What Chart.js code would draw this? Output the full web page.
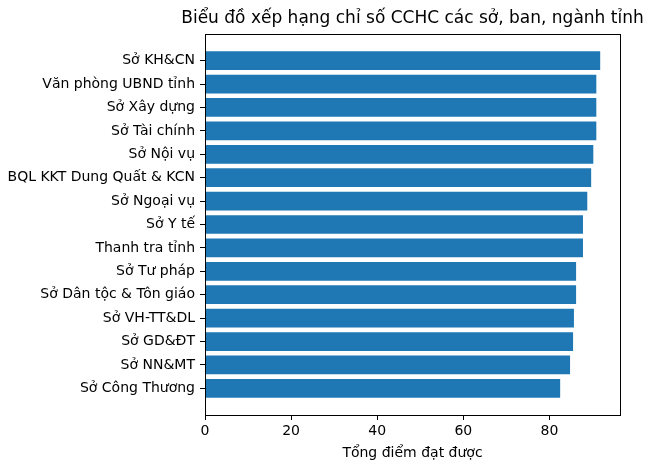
<!DOCTYPE html>
<html>
<head>
<meta charset="utf-8">
<script src="https://cdn.jsdelivr.net/npm/chart.js@4"></script>
<style>
  body { margin: 0; background: #fff; }
  #wrap { width: 648px; height: 470px; }
</style>
</head>
<body>
<div id="wrap"><canvas id="rankChart" width="648" height="470"></canvas></div>
<script>
// Data
const departments = [
  "Sở KH&CN", "Văn phòng UBND tỉnh", "Sở Xây dựng", "Sở Tài chính", "Sở Nội vụ",
  "BQL KKT Dung Quất & KCN", "Sở Ngoại vụ", "Sở Y tế", "Thanh tra tỉnh", "Sở Tư pháp",
  "Sở Dân tộc & Tôn giáo", "Sở VH-TT&DL", "Sở GD&ĐT", "Sở NN&MT", "Sở Công Thương"
];
const scores = [91.8, 90.9, 90.9, 90.9, 90.2, 89.7, 88.8, 87.8, 87.8, 86.2, 86.2, 85.7, 85.5, 84.8, 82.5];
const xTicks = [0, 20, 40, 60, 80];
const chartTitle = 'Biểu đồ xếp hạng chỉ số CCHC các sở, ban, ngành tỉnh';

const fontFamily = "'DejaVu Sans', sans-serif";

// Full box around the plot area plus a title centred over it (allowed to overhang, like matplotlib)
const frame = {
  id: 'frame',
  afterDraw(chart) {
    const { ctx, chartArea: a } = chart;
    ctx.save();
    ctx.strokeStyle = '#000';
    ctx.lineWidth = 1;
    ctx.strokeRect(Math.round(a.left) + 0.5, Math.round(a.top) + 0.5,
      Math.round(a.right - a.left), Math.round(a.bottom - a.top));
    ctx.fillStyle = '#000';
    ctx.font = '17px ' + fontFamily;
    ctx.textAlign = 'center';
    ctx.textBaseline = 'middle';
    ctx.fillText(chartTitle, (a.left + a.right) / 2, a.top - 15);
    ctx.restore();
  }
};

const ctx = document.getElementById("rankChart").getContext("2d");
new Chart(ctx, {
  type: 'bar',
  data: {
    datasets: [{
      data: scores.map((v, i) => ({ x: v, y: i })),
      backgroundColor: '#1f77b4',
      borderWidth: 0,
      barPercentage: 0.8,
      categoryPercentage: 1
    }]
  },
  options: {
    indexAxis: 'y',
    responsive: false,
    animation: false,
    layout: { padding: { top: 34, right: 28, bottom: 8, left: 0 } },
    plugins: {
      legend: { display: false },
      tooltip: { enabled: false },
      title: { display: false }
    },
    scales: {
      x: {
        type: 'linear',
        min: 0,
        max: 96.4,
        afterBuildTicks: s => { s.ticks = xTicks.map(v => ({ value: v })); },
        afterFit: s => { s.height = 47; },
        grid: { drawOnChartArea: false, drawTicks: true, tickLength: 5, color: '#000' },
        border: { display: false },
        ticks: { color: '#000', font: { family: fontFamily, size: 14 }, padding: 3, maxRotation: 0 },
        title: {
          display: true,
          text: 'Tổng điểm đạt được',
          color: '#000',
          font: { family: fontFamily, size: 14 },
          padding: { top: 2, bottom: 0 }
        }
      },
      y: {
        type: 'linear',
        reverse: true,
        offset: false,
        min: -1.14,
        max: 15.14,
        afterBuildTicks: s => { s.ticks = departments.map((d, i) => ({ value: i })); },
        afterFit: s => { s.width = 205; },
        grid: { offset: false, drawOnChartArea: false, drawTicks: true, tickLength: 5, color: '#000' },
        border: { display: false },
        ticks: {
          color: '#000',
          font: { family: fontFamily, size: 14 },
          padding: 5,
          autoSkip: false,
          callback: v => departments[v] || ''
        }
      }
    }
  },
  plugins: [frame]
});
</script>
</body>
</html>
